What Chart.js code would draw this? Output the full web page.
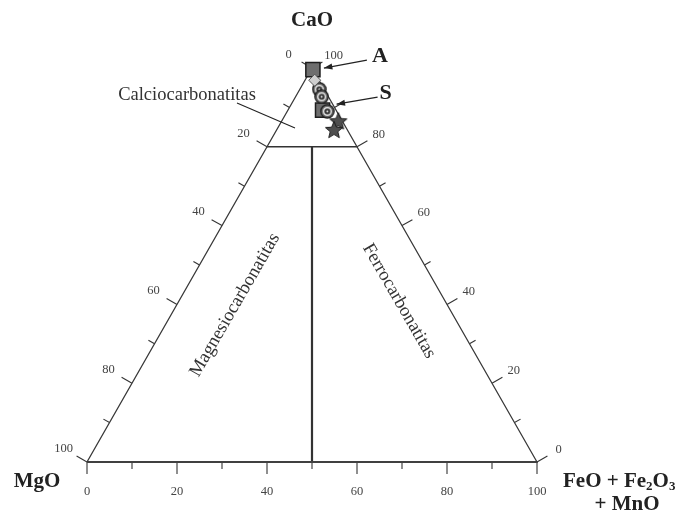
<!DOCTYPE html>
<html>
<head>
<meta charset="utf-8">
<script src="https://cdn.jsdelivr.net/npm/chart.js@4.4.0/dist/chart.umd.min.js"></script>
<style>
  body { margin: 0; background: #fff; }
  #wrap { width: 686px; height: 515px; }
</style>
</head>
<body>
<div id="wrap"><canvas id="c" width="686" height="515"></canvas></div>
<script>
// ==================== DATOS (%, CaO / MgO / FeO+Fe2O3+MnO) ====================
const squareCa = [99.6, 89.3];
const squareMg = [0.0, 3.0];
const squareFe = [0.4, 7.7];

const diamondCa = [96.9];
const diamondMg = [0.95];
const diamondFe = [2.15];

const ringCa = [94.6, 92.7, 89.0];
const ringMg = [1.1, 1.5, 2.1];
const ringFe = [4.3, 5.8, 8.9];

const starCa = [86.5, 84.3];
const starMg = [0.9, 2.95];
const starFe = [12.6, 12.75];

// limites de campos
const limitCa = 80;       // calciocarbonatitas por encima
const limitMgFe = 50;     // magnesio / ferro

const tickValues = [0, 10, 20, 30, 40, 50, 60, 70, 80, 90, 100];
const tickLabels = [0, 20, 40, 60, 80, 100];

// ==================== TERNARIO -> XY ====================
function tern(ca, mg, fe) {
  const s = ca + mg + fe;
  return { x: (fe + ca / 2) / s * 100, y: ca / s * 100 };
}
function ternList(ca, mg, fe) {
  return ca.map((c, i) => tern(c, mg[i], fe[i]));
}

// ==================== SIMBOLOS ====================
function makeRing() {
  const c = document.createElement('canvas');
  c.width = 15; c.height = 15;
  const g = c.getContext('2d');
  g.beginPath(); g.arc(7.5, 7.5, 6.6, 0, Math.PI * 2);
  g.fillStyle = '#666'; g.fill();
  g.lineWidth = 1.3; g.strokeStyle = '#1e1e1e'; g.stroke();
  g.beginPath(); g.arc(7.5, 7.5, 3.9, 0, Math.PI * 2);
  g.lineWidth = 1.3; g.strokeStyle = '#eee'; g.stroke();
  g.beginPath(); g.arc(7.5, 7.5, 2.6, 0, Math.PI * 2);
  g.fillStyle = '#333'; g.fill();
  g.beginPath(); g.arc(7.5, 7.5, 0.9, 0, Math.PI * 2);
  g.fillStyle = '#fff'; g.fill();
  return c;
}
function makeStar() {
  const c = document.createElement('canvas');
  c.width = 20; c.height = 20;
  const g = c.getContext('2d');
  g.beginPath();
  for (let i = 0; i < 10; i++) {
    const r = i % 2 === 0 ? 9 : 4;
    const a = -Math.PI / 2 + i * Math.PI / 5;
    const px = 10 + r * Math.cos(a), py = 10.5 + r * Math.sin(a);
    i === 0 ? g.moveTo(px, py) : g.lineTo(px, py);
  }
  g.closePath();
  g.fillStyle = '#4e4e4e'; g.fill();
  g.lineWidth = 1; g.strokeStyle = '#1e1e1e'; g.stroke();
  return c;
}

// ==================== LINEAS ====================
const triangle = [tern(0, 100, 0), tern(0, 0, 100), tern(100, 0, 0), tern(0, 100, 0)];
const bottomEdge = [tern(0, 100, 0), tern(0, 0, 100)];
const caLine = [tern(limitCa, 100 - limitCa, 0), tern(limitCa, 0, 100 - limitCa)];
const splitLine = [
  tern(limitCa, (100 - limitCa) / 2, (100 - limitCa) / 2),
  tern(0, limitMgFe, 100 - limitMgFe)
];

function lineDs(data, width, color) {
  return {
    data, showLine: true, borderColor: color, borderWidth: width,
    pointRadius: 0, fill: false, clip: false, order: 10
  };
}

const serif = '"Liberation Serif", "DejaVu Serif", serif';

// ==================== EJES / TEXTOS ====================
const ternaryPlugin = {
  id: 'ternary',
  beforeDatasetsDraw(chart) {
    const { ctx, scales: { x, y } } = chart;
    const px = p => ({ x: x.getPixelForValue(p.x), y: y.getPixelForValue(p.y) });
    const cen = px(tern(33.3, 33.3, 33.3));
    const axes = [
      { f: v => tern(100 - v, v, 0), off: 27 },   // MgO (izquierda)
      { f: v => tern(0, 100 - v, v), off: 30 },   // FeO (base)
      { f: v => tern(v, 0, 100 - v), off: 25 }    // CaO (derecha)
    ];
    ctx.save();
    ctx.strokeStyle = '#333';
    ctx.lineWidth = 1.1;
    ctx.fillStyle = '#444';
    ctx.font = '12.5px ' + serif;
    ctx.textAlign = 'center';
    ctx.textBaseline = 'middle';
    axes.forEach(a => {
      const p0 = px(a.f(0)), p1 = px(a.f(100));
      let nx = -(p1.y - p0.y), ny = p1.x - p0.x;
      const len = Math.hypot(nx, ny);
      nx /= len; ny /= len;
      const mid = { x: (p0.x + p1.x) / 2, y: (p0.y + p1.y) / 2 };
      if ((cen.x - mid.x) * nx + (cen.y - mid.y) * ny > 0) { nx = -nx; ny = -ny; }
      tickValues.forEach(v => {
        const p = px(a.f(v));
        const L = v % 20 === 0 ? 12 : 7;
        ctx.beginPath();
        ctx.moveTo(p.x, p.y);
        ctx.lineTo(p.x + nx * L, p.y + ny * L);
        ctx.stroke();
      });
      tickLabels.forEach(v => {
        const p = px(a.f(v));
        ctx.fillText(String(v), p.x + nx * a.off, p.y + ny * a.off);
      });
    });
    ctx.restore();
  },
  afterDraw(chart) {
    const { ctx, scales: { x, y } } = chart;
    const px = p => ({ x: x.getPixelForValue(p.x), y: y.getPixelForValue(p.y) });
    const top = px(tern(100, 0, 0));
    const left = px(tern(0, 100, 0));
    const right = px(tern(0, 0, 100));
    ctx.save();
    ctx.fillStyle = '#222';
    ctx.strokeStyle = '#222';
    ctx.textBaseline = 'middle';

    // vertices
    ctx.font = 'bold 21px ' + serif;
    ctx.textAlign = 'center';
    ctx.fillText('CaO', top.x, top.y - 47);
    ctx.fillText('MgO', left.x - 50, left.y + 20);

    ctx.textAlign = 'left';
    let cx = right.x + 26, cy = right.y + 20;
    const big = 'bold 21px ' + serif, small = 'bold 13px ' + serif;
    [['FeO + Fe', big, 0], ['2', small, 5], ['O', big, 0], ['3', small, 5]].forEach(([t, f, dy]) => {
      ctx.font = f;
      ctx.fillText(t, cx, cy + dy);
      cx += ctx.measureText(t).width;
    });
    ctx.font = big;
    ctx.textAlign = 'center';
    ctx.fillText('+ MnO', right.x + 90, right.y + 43);

    // flechas A y S
    function arrow(tx, ty, hx, hy) {
      ctx.beginPath(); ctx.moveTo(tx, ty); ctx.lineTo(hx, hy);
      ctx.lineWidth = 1.2; ctx.stroke();
      const a = Math.atan2(hy - ty, hx - tx);
      ctx.beginPath();
      ctx.moveTo(hx, hy);
      ctx.lineTo(hx - 9 * Math.cos(a - 0.35), hy - 9 * Math.sin(a - 0.35));
      ctx.lineTo(hx - 9 * Math.cos(a + 0.35), hy - 9 * Math.sin(a + 0.35));
      ctx.closePath(); ctx.fill();
    }
    const pA = px(tern(squareCa[0], squareMg[0], squareFe[0]));
    const pS = px(tern(squareCa[1], squareMg[1], squareFe[1]));
    arrow(pA.x + 54, pA.y - 9.5, pA.x + 11, pA.y - 1.5);
    arrow(pS.x + 55, pS.y - 13, pS.x + 14, pS.y - 6);
    ctx.font = 'bold 22px ' + serif;
    ctx.fillText('A', pA.x + 67, pA.y - 13.5);
    ctx.fillText('S', pS.x + 63, pS.y - 17);

    // campos
    ctx.fillStyle = '#333';
    ctx.font = '18.5px ' + serif;
    ctx.fillText('Calciocarbonatitas', top.x - 125, top.y + 27);
    ctx.lineWidth = 1.1;
    ctx.beginPath();
    ctx.moveTo(top.x - 75, top.y + 35);
    ctx.lineTo(top.x - 17, top.y + 60);
    ctx.stroke();

    ctx.save();
    ctx.translate(top.x - 77, top.y + 237);
    ctx.rotate(-60 * Math.PI / 180);
    ctx.fillText('Magnesiocarbonatitas', 0, 0);
    ctx.restore();
    ctx.save();
    ctx.translate(top.x + 87, top.y + 233);
    ctx.rotate(60 * Math.PI / 180);
    ctx.fillText('Ferrocarbonatitas', 0, 0);
    ctx.restore();
    ctx.restore();
  }
};

// ==================== GRAFICO ====================
new Chart(document.getElementById('c'), {
  type: 'scatter',
  data: {
    datasets: [
      lineDs(triangle, 1.3, '#383838'),
      lineDs(bottomEdge, 2.2, '#5a5a5a'),
      lineDs(caLine, 1.6, '#333'),
      lineDs(splitLine, 2.2, '#333'),
      {
        data: ternList(squareCa, squareMg, squareFe),
        pointStyle: 'rect', pointRadius: [10, 10],
        backgroundColor: '#6e6e6e', borderColor: '#1e1e1e', borderWidth: 1.5,
        clip: false, order: 5
      },
      {
        data: ternList(diamondCa, diamondMg, diamondFe),
        pointStyle: 'rectRot', pointRadius: 6,
        backgroundColor: '#cfcfcf', borderColor: '#555', borderWidth: 1,
        clip: false, order: 1
      },
      {
        data: ternList(ringCa, ringMg, ringFe),
        pointStyle: makeRing(), pointRadius: 7,
        clip: false, order: 3
      },
      {
        data: ternList(starCa, starMg, starFe),
        pointStyle: makeStar(), pointRadius: 9,
        clip: false, order: 2
      }
    ]
  },
  options: {
    responsive: false,
    animation: false,
    devicePixelRatio: 1,
    layout: { padding: { left: 87, right: 149, top: 68, bottom: 53 } },
    scales: {
      x: { type: 'linear', min: 0, max: 100, display: false },
      y: { type: 'linear', min: 0, max: 100, display: false }
    },
    plugins: { legend: { display: false }, tooltip: { enabled: false } }
  },
  plugins: [ternaryPlugin]
});
</script>
</body>
</html>
